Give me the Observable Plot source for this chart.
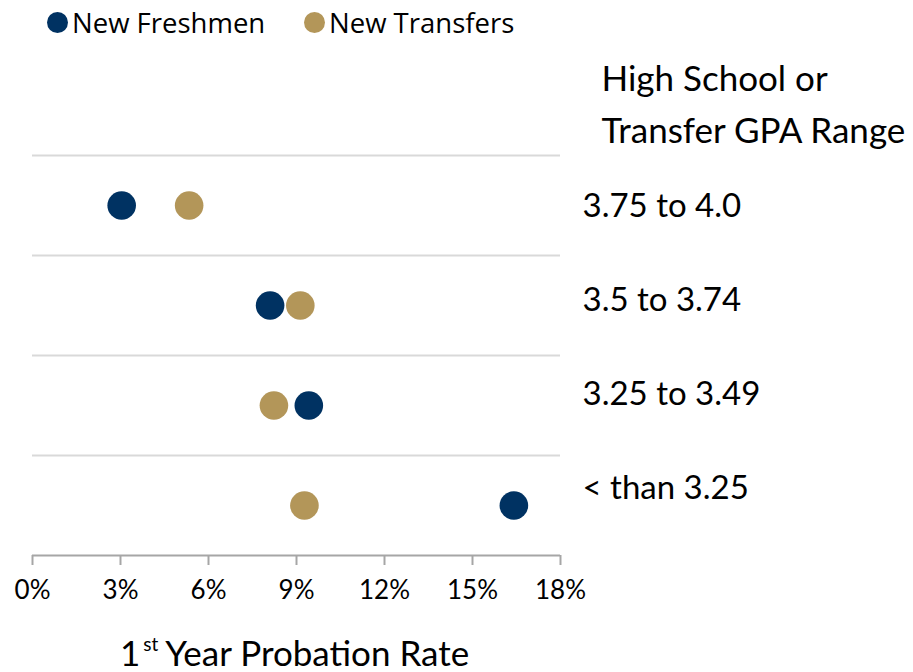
<!DOCTYPE html>
<html><head><meta charset="utf-8">
<script src="https://cdn.jsdelivr.net/npm/d3@7"></script>
<script src="https://cdn.jsdelivr.net/npm/@observablehq/plot@0.6"></script>
<style>
body{margin:0;background:#fff;width:913px;height:672px;overflow:hidden;font-family:Lato,sans-serif;}
#legend{position:relative;height:45px;font-family:"Open Sans",sans-serif;font-size:27.5px;color:#000;}
.item{position:absolute;top:0;height:45px;display:flex;align-items:center;white-space:nowrap;}
.sw{width:21px;height:21px;border-radius:50%;margin-right:4px;}
#chart svg{display:block;}
#title{position:relative;height:47px;font-family:Lato,sans-serif;font-size:35px;line-height:35px;color:#000;}
#title span.t{position:absolute;left:120px;top:10px;white-space:nowrap;line-height:35px;}
#title sup{font-size:19px;line-height:0;vertical-align:0;position:relative;top:-15px;margin:0 7px 0 3px;}
</style>
</head><body>
<div id="legend"></div>
<div id="chart"></div>
<div id="title"><span class="t">1<sup>st</sup>Year Probation Rate</span></div>
<script>
const ranges = ["3.75 to 4.0", "3.5 to 3.74", "3.25 to 3.49", "< than 3.25"];
const freshmen = [3.04, 8.10, 9.42, 16.41];
const transfers = [5.34, 9.13, 8.23, 9.27];
const seriesNames = ["New Freshmen", "New Transfers"];
const seriesColors = ["#003262", "#B39659"];
const xTicks = [0, 3, 6, 9, 12, 15, 18];
const headerLines = ["High School or", "Transfer GPA Range"];

const rows = ranges.flatMap((r, i) => [
  {range: r, i, group: seriesNames[0], value: freshmen[i]},
  {range: r, i, group: seriesNames[1], value: transfers[i]}
]);

// legend
const legend = document.getElementById("legend");
const legendLeft = [47, 304];
seriesNames.forEach((name, k) => {
  const it = document.createElement("div");
  it.className = "item";
  it.style.left = legendLeft[k] + "px";
  it.innerHTML = `<span class="sw" style="background:${seriesColors[k]}"></span><span>${name}</span>`;
  legend.appendChild(it);
});

const chart = Plot.plot({
  width: 913,
  height: 580,
  marginTop: 110,
  marginBottom: 70,
  marginLeft: 32,
  marginRight: 353,
  style: {fontFamily: "Lato, sans-serif", background: "#fff", color: "#000"},
  x: {domain: [0, 18], ticks: xTicks, tickFormat: d => d + "%", label: null},
  y: {domain: [0, ranges.length], reverse: true, axis: null},
  color: {domain: seriesNames, range: seriesColors},
  marks: [
    Plot.ruleY(ranges.map((r, i) => i), {stroke: "#d9d9d9", strokeWidth: 2}),
    Plot.ruleY([ranges.length], {stroke: "#a6a6a6", strokeWidth: 2}),
    Plot.axisX({ticks: xTicks, tickFormat: d => d + "%", label: null, tickSize: 10, tickPadding: 15, fontSize: 26, stroke: "#a6a6a6", strokeWidth: 2, fill: "#000"}),
    Plot.dot(rows, {x: "value", y: d => d.i + 0.5, fill: "group", r: 14.3}),
    // category labels sit slightly tighter than the bands, as in the source
    Plot.text(ranges, {y: (d, i) => 0.51 + i * 0.94, text: d => d, frameAnchor: "right", dx: 22, textAnchor: "start", fontSize: 33, fill: "#000"}),
    Plot.text([headerLines.join("\n")], {frameAnchor: "top-right", dx: 41, dy: -102, textAnchor: "start", lineAnchor: "top", lineHeight: 1.5, fontSize: 35, fill: "#000"})
  ]
});
document.getElementById("chart").appendChild(chart);
</script>
</body></html>
